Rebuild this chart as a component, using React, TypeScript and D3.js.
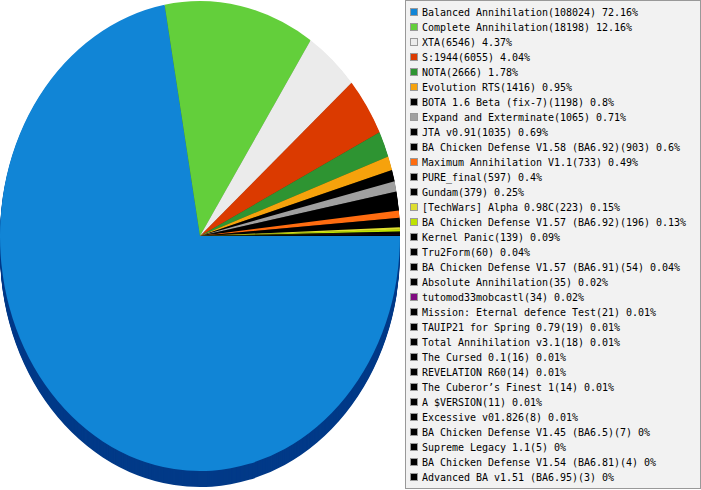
import { useEffect } from 'react';
import * as d3 from 'd3';

// legend / slice data
const modNames = [
  'Balanced Annihilation', 'Complete Annihilation', 'XTA', 'S:1944', 'NOTA',
  'Evolution RTS', 'BOTA 1.6 Beta (fix-7)', 'Expand and Exterminate', 'JTA v0.91',
  'BA Chicken Defense V1.58 (BA6.92)', 'Maximum Annihilation V1.1', 'PURE_final',
  'Gundam', '[TechWars] Alpha 0.98C', 'BA Chicken Defense V1.57 (BA6.92)',
  'Kernel Panic', 'Tru2Form', 'BA Chicken Defense V1.57 (BA6.91)',
  'Absolute Annihilation', 'tutomod33mobcastl', 'Mission: Eternal defence Test',
  'TAUIP21 for Spring 0.79', 'Total Annihilation v3.1', 'The Cursed 0.1',
  'REVELATION R60', 'The Cuberor\u2019s Finest 1', 'A $VERSION', 'Excessive v01.826',
  'BA Chicken Defense V1.45 (BA6.5)', 'Supreme Legacy 1.1',
  'BA Chicken Defense V1.54 (BA6.81)', 'Advanced BA v1.51 (BA6.95)',
];
const gameCounts = [
  108024, 18198, 6546, 6055, 2666, 1416, 1198, 1065, 1035, 903, 733, 597, 379, 223,
  196, 139, 60, 54, 35, 34, 21, 19, 18, 16, 14, 14, 11, 8, 7, 5, 4, 3,
];
const percentLabels = [
  '72.16%', '12.16%', '4.37%', '4.04%', '1.78%', '0.95%', '0.8%', '0.71%', '0.69%',
  '0.6%', '0.49%', '0.4%', '0.25%', '0.15%', '0.13%', '0.09%', '0.04%', '0.04%',
  '0.02%', '0.02%', '0.01%', '0.01%', '0.01%', '0.01%', '0.01%', '0.01%', '0.01%',
  '0.01%', '0%', '0%', '0%', '0%',
];
const sliceColors = [
  '#1185d6', '#63cf3b', '#ebebeb', '#db3a00', '#2e9432', '#f6a20c', '#000000',
  '#a0a0a0', '#000000', '#000000', '#ff6c10', '#000000', '#000000', '#dede2e',
  '#bee200', '#000000', '#000000', '#000000', '#000000', '#7f0a80', '#000000',
  '#000000', '#000000', '#000000', '#000000', '#000000', '#000000', '#000000',
  '#000000', '#000000', '#000000', '#000000',
];

const W = 701;
const H = 490;
const CHAR_W = 6; // legend font is a fixed-width 6px bitmap font

export default function App() {
  useEffect(() => {
    document.body.style.margin = '0';
  }, []);

  const cx = 200, cy = 236, rx = 200, ry = 235, depth = 16;

  const pie = d3.pie<number>()
    .sort(null)
    .value(d => d)
    .startAngle(Math.PI / 2)
    .endAngle(Math.PI / 2 + 2 * Math.PI);
  const arcs = pie(gameCounts);
  const arc = d3.arc<d3.PieArcDatum<number>>().innerRadius(0).outerRadius(1);

  const side = (c: string, i: number) =>
    i === 0 ? '#023a88' : (d3.color(c)!.darker(1.5).formatHex());

  return (
    <svg width={W} height={H} style={{ display: 'block', background: '#fff' }}>
      {/* pie depth */}
      {d3.range(depth, 0, -1).map(off => (
        <g key={off} transform={`translate(${cx},${cy + off}) scale(${rx},${ry})`}>
          {arcs.map((a, i) => (
            <path key={i} d={arc(a) || ''} fill={side(sliceColors[i], i)} />
          ))}
        </g>
      ))}
      {/* pie top */}
      <g transform={`translate(${cx},${cy}) scale(${rx},${ry})`}>
        {arcs.map((a, i) => (
          <path key={i} d={arc(a) || ''} fill={sliceColors[i]} />
        ))}
      </g>

      {/* legend */}
      <rect x={405.5} y={0.5} width={295} height={488} fill="#f2f2f2" stroke="#999" />
      <g style={{ fontFamily: '"DejaVu Sans Mono", "Liberation Mono", monospace', fontSize: '10px' }}>
        {modNames.map((name, i) => {
          const label = `${name}(${gameCounts[i]}) ${percentLabels[i]}`;
          // place every glyph in its own 6px cell, like the fixed-width original
          const xs = Array.from(label).map((_, k) => 422 + k * CHAR_W).join(' ');
          return (
            <g key={i} transform={`translate(0,${i * 15})`}>
              <rect x={410.5} y={8.5} width={7} height={7} fill={sliceColors[i]} stroke="#999" />
              <text x={xs} y={16} fill="#000">
                {label}
              </text>
            </g>
          );
        })}
      </g>
    </svg>
  );
}
